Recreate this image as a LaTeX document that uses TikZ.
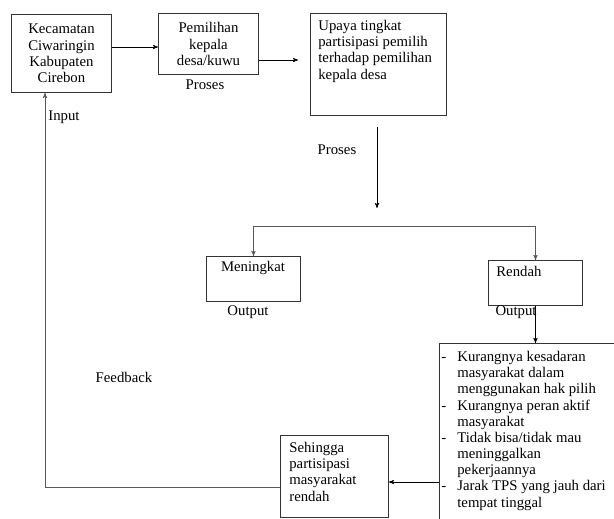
\documentclass[tikz,border=0pt]{standalone}
\usepackage{fontspec}
\setmainfont{Liberation Serif}
\usetikzlibrary{arrows,positioning,calc}

\begin{document}
\begin{tikzpicture}[->, >=stealth', semithick, x=0.03cm, y=-0.03cm, font=\fontsize{12.6}{13.8}\selectfont]
	\tikzstyle{every node}=[inner sep=0pt]
	\tikzstyle{kotak}=[draw=black!80, thick, anchor=north west, inner sep=0pt]
	\tikzstyle{teks}=[align=left, anchor=north west, inner sep=0pt]
	\tikzstyle{garis}=[draw=black!65]
	\clip (0,0) rectangle (614,518);
	% kotak
	\node[kotak, minimum width=3cm, minimum height=2.34cm, align=center] (kec) at (11,14) {Kecamatan\\Ciwaringin\\Kabupaten\\Cirebon};
	\node[kotak, minimum width=3cm, minimum height=1.83cm, align=center] (pemilihan) at (158,13) {Pemilihan\\kepala\\desa/kuwu};
	\node[kotak, minimum width=4.08cm, minimum height=3.06cm] (upaya) at (310,13) {};
	\node[teks] (upayateks) at (318,20) {Upaya tingkat\\partisipasi pemilih\\terhadap pemilihan\\kepala desa};
	\node[kotak, minimum width=2.82cm, minimum height=1.35cm] (meningkat) at (206,256) {};
	\node (meningkatteks) at (253,268) {Meningkat};
	\node[kotak, minimum width=2.82cm, minimum height=1.35cm] (rendah) at (488,260) {};
	\node[anchor=west] (rendahteks) at (496,271) {Rendah};
	\node[kotak, minimum width=6cm, minimum height=6cm] (faktor) at (439,343) {};
	\node[teks] (faktorteks) at (441,351) {\makebox[0.48cm][l]{-}Kurangnya kesadaran\\\hspace*{0.48cm}masyarakat dalam\\\hspace*{0.48cm}menggunakan hak pilih\\\makebox[0.48cm][l]{-}Kurangnya peran aktif\\\hspace*{0.48cm}masyarakat\\\makebox[0.48cm][l]{-}Tidak bisa/tidak mau\\\hspace*{0.48cm}meninggalkan\\\hspace*{0.48cm}pekerjaannya\\\makebox[0.48cm][l]{-}Jarak TPS yang jauh dari\\\hspace*{0.48cm}tempat tinggal};
	\node[kotak, minimum width=3.24cm, minimum height=2.46cm] (sehingga) at (280,435) {};
	\node[teks] (sehinggateks) at (289,442) {Sehingga\\partisipasi\\masyarakat\\rendah};
	% label
	\node (proses1) at (205,85) {Proses};
	\node (proses2) at (337,150) {Proses};
	\node (output1) at (248,312) {Output};
	\node (output2) at (516,312) {Output};
	\node[anchor=west] (input) at (48,117) {Input};
	\node (feedback) at (124,377) {Feedback};
	% panah
	\coordinate (ab) at (0,47);
	\coordinate (ujungB) at (298,60);
	\coordinate (atas) at (377,127);
	\coordinate (bawah) at (377,208);
	\coordinate (cabang) at (377,226);
	\coordinate (de) at (0,482);
	\coordinate (fb) at (45,487);
	\draw (kec.east |- ab) -- (pemilihan.west |- ab);
	\draw (pemilihan.east |- ujungB) -- (ujungB);
	\draw (atas) -- (bawah);
	\draw[garis] (cabang) -| (meningkat.north);
	\draw[garis] (cabang) -| (rendah.north);
	\draw (rendah.south) -- (rendah.south |- faktor.north);
	\draw (faktor.west |- de) -- (sehingga.east |- de);
	\draw[garis] (sehingga.west |- fb) -- (fb) -- (fb |- kec.south);
\end{tikzpicture}
\end{document}
